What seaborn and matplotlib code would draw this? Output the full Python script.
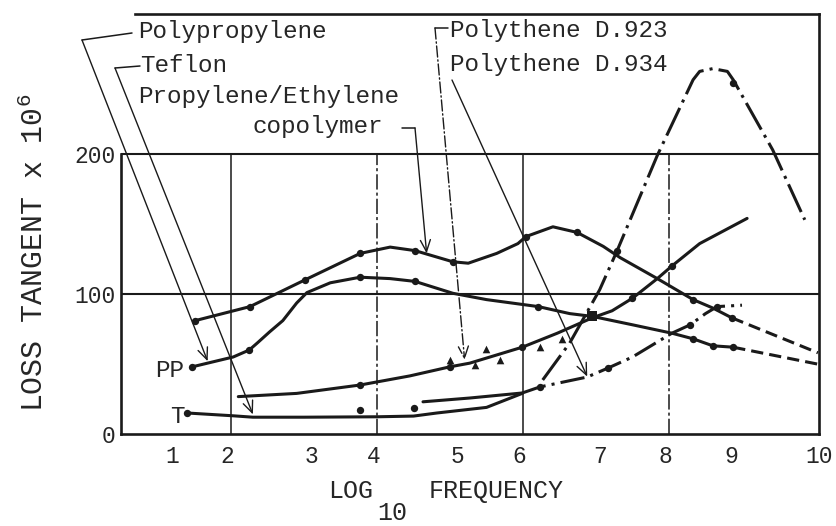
import numpy as np
import pandas as pd
import seaborn as sns
import matplotlib.pyplot as plt
from matplotlib.lines import Line2D

# valores (x = log10 frecuencia, y = tangente de perdida x 1e6)
copol_x = [1.51, 2.26, 3.01, 3.77, 4.18, 4.52, 5.04, 5.25, 5.64, 5.93, 6.04, 6.41, 6.74, 7.10, 7.33, 7.84, 8.33, 8.60, 8.86]
copol_y = [81, 91, 110, 129, 133.5, 131, 123, 122, 129, 136, 141, 148, 144, 134, 126, 111, 96, 90, 83]
copol_tail_x = [8.86, 10.04]
copol_tail_y = [83, 58]

pp_x = [1.47, 1.71, 2.03, 2.25, 2.36, 2.53, 2.71, 2.90, 3.04, 3.36, 3.77, 4.18, 4.52, 5.04, 5.50, 6.21, 6.64, 6.95, 7.50, 8.04, 8.33, 8.60, 8.88]
pp_y = [48, 51, 55, 60, 65, 73, 81, 93.6, 101, 108, 112, 111, 109, 100.5, 96, 91, 86, 84, 78, 72, 68, 63, 62]
pp_tail_x = [8.88, 10.03]
pp_tail_y = [62, 50]

d923_x = [2.10, 2.90, 3.77, 4.45, 5.00, 5.27, 5.99, 6.47, 6.95, 7.22, 7.50, 7.84, 8.04, 8.42, 9.07]
d923_y = [26.7, 29, 35, 41.5, 48, 50.6, 62, 72, 83, 88, 97, 111, 120, 136, 154]

teflon_x = [1.40, 2.03, 2.30, 3.00, 4.00, 4.50, 4.82, 5.50, 5.99]
teflon_y = [15, 13, 12, 12, 12.3, 12.8, 15, 19, 29]

d934_x = [4.63, 5.27, 5.99]
d934_y = [23, 25.7, 29.3]
d934_tail_x = [5.99, 6.23, 6.88, 7.16, 7.50, 8.04, 8.29, 8.50, 8.66, 9.00]
d934_tail_y = [29.3, 33.6, 40.7, 47, 55, 72, 78, 86, 91, 92]

peak_x = [6.27, 6.64, 7.05, 7.29, 7.84, 8.33, 8.42, 8.60, 8.80, 8.88, 9.42, 9.86]
peak_y = [38.6, 65, 103, 131, 199, 253, 259, 261, 259, 253, 203, 153]

# puntos experimentales marcados
dots_x = [1.51, 2.26, 3.01, 3.77, 4.52, 5.04, 6.04, 6.74, 8.33, 8.86,
          1.47, 2.25, 3.77, 4.52, 6.21, 8.33, 8.60, 8.88,
          3.77, 5.00, 5.99, 7.50, 8.04,
          1.40, 3.77, 4.50,
          6.23, 7.16, 8.29, 8.66,
          7.29, 8.88]
dots_y = [81, 91, 110, 129, 131, 123, 141, 144, 96, 83,
          48, 60, 112, 109, 91, 68, 63, 62,
          35, 48, 62, 97, 120,
          15, 17, 18.6,
          33.6, 47, 78, 91,
          131, 251]
tri_x = [5.00, 5.34, 5.50, 5.68, 6.23, 6.53]
tri_y = [53, 49, 61, 53, 62, 68]
square_x = [6.95]
square_y = [84]

xtick_pos = [1.2, 1.95, 3.1, 3.95, 5.1, 5.95, 7.05, 7.95, 8.85, 10.05]
xtick_labels = ["1", "2", "3", "4", "5", "6", "7", "8", "9", "10"]
ytick_pos = [0, 100, 200]

W, H = 836, 526
def fp(x, y):
    # pixeles de la imagen -> fraccion de figura
    return (x / W, 1 - y / H)

sns.set_theme(style="white")
plt.rcParams["font.family"] = ["Liberation Mono", "DejaVu Sans Mono"]
plt.rcParams["mathtext.default"] = "regular"

fig = plt.figure(figsize=(W / 100, H / 100), dpi=100)
ax = fig.add_axes([121 / W, (H - 434) / H, (819 - 121) / W, (434 - 14) / H])
ax.set_xlim(0.493, 10.055)
ax.set_ylim(0, 300)

# rejilla
for yv in [100, 200]:
    ax.axhline(yv, color="k", lw=1.5, zorder=1)
ax.vlines([2, 6], 0, 200, color="k", lw=1.1, zorder=1)
ax.vlines([4, 8], 0, 200, color="k", lw=1.1, linestyles=[(0, (10, 2, 2, 2))], zorder=1)

lw = 2.2
kw = dict(ax=ax, color="k", sort=False, estimator=None, zorder=3)
sns.lineplot(x=copol_x, y=copol_y, lw=lw, **kw)
sns.lineplot(x=copol_tail_x, y=copol_tail_y, lw=lw, linestyle=(0, (4, 2)), **kw)
sns.lineplot(x=pp_x, y=pp_y, lw=lw, **kw)
sns.lineplot(x=pp_tail_x, y=pp_tail_y, lw=lw, linestyle=(0, (4, 2)), **kw)
sns.lineplot(x=d923_x, y=d923_y, lw=lw, **kw)
sns.lineplot(x=teflon_x, y=teflon_y, lw=lw, **kw)
sns.lineplot(x=d934_x, y=d934_y, lw=lw, **kw)
sns.lineplot(x=d934_tail_x, y=d934_tail_y, lw=lw, linestyle=(0, (8, 2, 1, 2)), **kw)
sns.lineplot(x=peak_x, y=peak_y, lw=lw, linestyle=(0, (10, 2, 1, 2)), **kw)

sns.scatterplot(x=dots_x, y=dots_y, ax=ax, color="k", s=28, marker="o", linewidth=0, zorder=4)
sns.scatterplot(x=tri_x, y=tri_y, ax=ax, color="k", s=30, marker="^", linewidth=0, zorder=4)
sns.scatterplot(x=square_x, y=square_y, ax=ax, color="k", s=45, marker="s", linewidth=0, zorder=4)

# ejes / marco
for side in ["left", "right", "top", "bottom"]:
    ax.spines[side].set_color("k")
    ax.spines[side].set_linewidth(1.9)
ax.spines["left"].set_bounds(0, 200)
ax.spines["top"].set_bounds(0.685, 10.055)

ax.set_xticks(xtick_pos)
ax.set_xticklabels(xtick_labels, fontsize=16.5)
ax.set_yticks(ytick_pos)
ax.set_yticklabels([str(v) for v in ytick_pos], fontsize=16.5)
ax.tick_params(axis="x", length=0, pad=8)
ax.tick_params(axis="y", length=0, pad=4)

# titulos de ejes
fig.text(*fp(34, 253), "LOSS TANGENT x 10$^{6}$", rotation=90, ha="center", va="center", fontsize=21.5)
fig.text(*fp(351, 498), "LOG", ha="center", va="baseline", fontsize=18)
fig.text(*fp(392, 520), "10", ha="center", va="baseline", fontsize=18)
fig.text(*fp(496, 498), "FREQUENCY", ha="center", va="baseline", fontsize=18)

# etiquetas de curvas
fs = 17.5
fig.text(*fp(138, 38), "Polypropylene", va="baseline", fontsize=fs)
fig.text(*fp(140, 72), "Teflon", va="baseline", fontsize=fs)
fig.text(*fp(138, 103), "Propylene/Ethylene", va="baseline", fontsize=fs)
fig.text(*fp(253, 133), "copolymer", va="baseline", fontsize=fs)
fig.text(*fp(450, 37), "Polythene D.923", va="baseline", fontsize=fs)
fig.text(*fp(450, 71), "Polythene D.934", va="baseline", fontsize=fs)
fig.text(*fp(155, 377), "PP", va="baseline", fontsize=fs)
fig.text(*fp(170, 423), "T", va="baseline", fontsize=fs)

def seg(p1, p2, ls="-"):
    a, b = fp(*p1), fp(*p2)
    fig.add_artist(Line2D([a[0], b[0]], [a[1], b[1]], transform=fig.transFigure,
                          color="k", lw=1.1, linestyle=ls))

def arrow(tip, start, ls="-"):
    ax.annotate("", xy=tip, xycoords="data", xytext=fp(*start), textcoords="figure fraction",
                arrowprops=dict(arrowstyle="->,head_length=0.7,head_width=0.3", lw=1.0,
                                color="k", shrinkA=0, shrinkB=0, linestyle=ls))

seg((132, 33), (82, 40))
arrow((1.68, 52), (82, 40))
seg((140, 66), (115, 68))
arrow((2.3, 14), (115, 68))
seg((402, 128), (415, 128))
arrow((4.68, 129), (415, 128))
seg((448, 28), (435, 28))
arrow((5.2, 53), (435, 28), ls=(0, (8, 2, 1, 2)))
arrow((6.88, 41), (452, 80))

fig.savefig("out.png", dpi=100)
print("[INFO] out.png guardado")
